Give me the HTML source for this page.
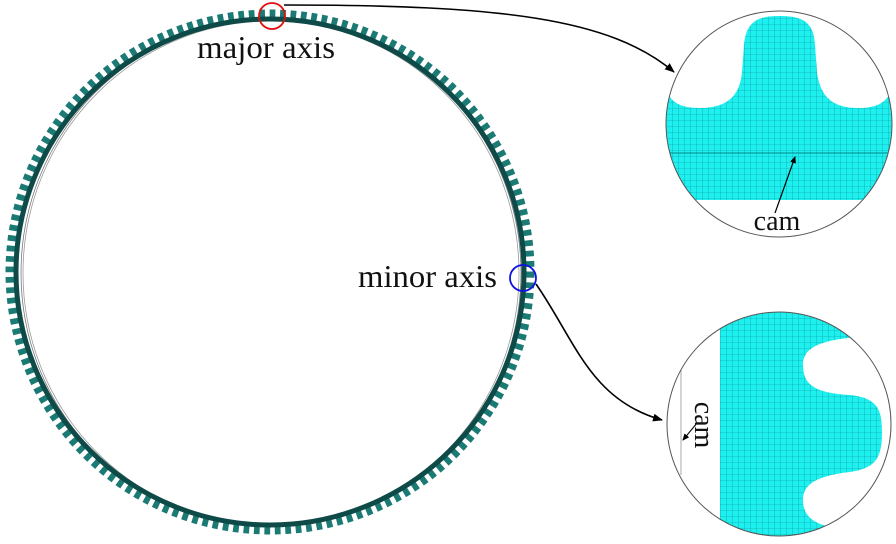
<!DOCTYPE html>
<html><head><meta charset="utf-8"><style>
html,body{margin:0;padding:0;background:#fff;}
svg{display:block;}
text{font-family:"Liberation Serif",serif;fill:#111;}
</style></head><body>
<svg width="896" height="544" viewBox="0 0 896 544" xmlns="http://www.w3.org/2000/svg">
<defs>
<pattern id="mesh" width="6" height="6" patternUnits="userSpaceOnUse">
<rect width="6" height="6" fill="#1ef0f0"/>
<path d="M0 0H6M0 0V6" stroke="#0a8f95" stroke-width="0.6"/>
</pattern>
<clipPath id="c1"><circle cx="779" cy="124" r="113"/></clipPath>
<clipPath id="c2"><circle cx="779" cy="424" r="112"/></clipPath>
<marker id="ah" markerWidth="10" markerHeight="8" refX="9" refY="4" orient="auto" markerUnits="userSpaceOnUse">
<path d="M0 0L10 4L0 8Z" fill="#000"/>
</marker>
<marker id="as" markerWidth="7" markerHeight="6" refX="6" refY="3" orient="auto" markerUnits="userSpaceOnUse">
<path d="M0 0L7 3L0 6Z" fill="#000"/>
</marker>
</defs>

<ellipse cx="271" cy="273" rx="250" ry="254" fill="none" stroke="#777" stroke-width="0.8"/>
<ellipse cx="271" cy="273" rx="248" ry="252" fill="none" stroke="#999" stroke-width="0.8"/>
<ellipse cx="270" cy="272" rx="260" ry="258" fill="none" stroke="#1b7a74" stroke-width="9" pathLength="312" stroke-dasharray="1.1 0.9"/>
<ellipse cx="270" cy="272" rx="254" ry="253" fill="none" stroke="#0d4a48" stroke-width="5"/>

<circle cx="272" cy="16" r="13" fill="none" stroke="#e01010" stroke-width="1.8"/>
<circle cx="523" cy="278" r="13" fill="none" stroke="#1010e0" stroke-width="1.8"/>

<text x="197" y="58" font-size="32" textLength="138" lengthAdjust="spacingAndGlyphs">major axis</text>
<text x="358" y="287" font-size="32" textLength="139" lengthAdjust="spacingAndGlyphs">minor axis</text>

<path d="M284,5 C500,5 610,18 674,72" fill="none" stroke="#000" stroke-width="1.6" marker-end="url(#ah)"/>
<path d="M536,284 C575,340 590,400 662,420" fill="none" stroke="#000" stroke-width="1.6" marker-end="url(#ah)"/>

<g clip-path="url(#c1)">
<path d="M662,72 C666,100 675,108 700,108 C728,108 740,95 742,72 L744,45 C746,20 760,16 779,16 C800,16 814,20 815,45 L817,72 C820,96 832,108 858,108 C882,108 892,100 896,72 L896,200 L662,200 Z" fill="url(#mesh)"/>
<line x1="662" y1="153" x2="896" y2="153" stroke="#066" stroke-width="0.8"/>
</g>
<circle cx="779" cy="124" r="113" fill="none" stroke="#555" stroke-width="1"/>
<path d="M775,213 L795,157" stroke="#000" stroke-width="1.2" marker-end="url(#as)"/>
<text x="777" y="230" font-size="28" text-anchor="middle">cam</text>

<g clip-path="url(#c2)">
<path d="M720,300 L860,300 L860,337 C815,340 803,350 803,365 C803,385 815,393 850,395 C878,398 882,410 882,432 C882,458 876,468 850,472 C815,476 803,485 803,500 C803,520 820,525 835,528 L835,540 L720,540 Z" fill="url(#mesh)"/>
<line x1="681" y1="360" x2="681" y2="475" stroke="#aaa" stroke-width="1"/>
</g>
<circle cx="779" cy="424" r="112" fill="none" stroke="#555" stroke-width="1"/>
<path d="M697,423 L683,440" stroke="#000" stroke-width="1" marker-end="url(#as)"/>
<text x="0" y="0" font-size="28" text-anchor="middle" transform="translate(695,425) rotate(90)">cam</text>
</svg>
</body></html>
